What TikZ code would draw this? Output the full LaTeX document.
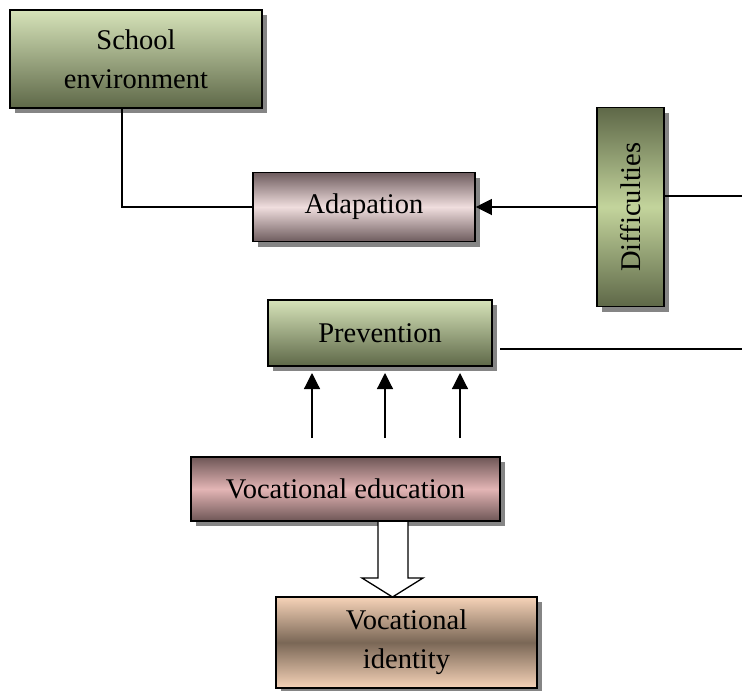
\documentclass[tikz,border=0pt]{standalone}
\usepackage{fontspec}
\setmainfont{Liberation Serif}
\usetikzlibrary{shadows,arrows.meta,calc}
\definecolor{grlight}{HTML}{D6E3B9}
\definecolor{grdark}{HTML}{5E6848}
\definecolor{grmid}{HTML}{C3D49C}
\definecolor{pkdark}{HTML}{6E5C5E}
\definecolor{pklight}{HTML}{F0DEDE}
\definecolor{rsdark}{HTML}{6E5656}
\definecolor{rsmid}{HTML}{E3B5B5}
\definecolor{pclight}{HTML}{F6D3B8}
\definecolor{pcdark}{HTML}{7A6756}
\tikzset{
  boxnode/.style={draw=black, line width=1.6pt, inner sep=0pt, align=center,
    font=\fontsize{28.5}{39}\selectfont,
    drop shadow={shadow xshift=5pt, shadow yshift=-5pt, fill=black!48, opacity=1}},
  greenbox/.style={boxnode, top color=grlight, bottom color=grdark},
  pinkbox/.style={boxnode, top color=pkdark, bottom color=pkdark, middle color=pklight},
  rosebox/.style={boxnode, top color=rsdark, bottom color=rsdark, middle color=rsmid},
  peachbox/.style={boxnode, top color=pclight, bottom color=pclight, middle color=pcdark},
  diffbox/.style={boxnode, top color=grdark, bottom color=grdark, middle color=grmid},
  conn/.style={line width=1.2pt},
  arr/.style={conn, -{Triangle[length=16pt,width=16pt]}},
}
\begin{document}
\begin{tikzpicture}[x=1pt,y=-1pt]
\useasboundingbox (0,0) rectangle (742,691);
\node[greenbox, minimum width=252pt, minimum height=98pt] (school) at (136,59) {School\\environment};
\node[pinkbox, minimum width=222pt, minimum height=69pt] (adapt) at (364,207) {Adapation};
\node[diffbox, minimum width=67pt, minimum height=199pt] (diff) at (630.5,207) {\rotatebox{90}{Difficulties}};
\node[greenbox, minimum width=224pt, minimum height=66pt] (prev) at (380,333) {Prevention};
\node[rosebox, minimum width=309pt, minimum height=64pt] (vedu) at (345.5,489) {Vocational education};
\node[peachbox, minimum width=261pt, minimum height=91pt] (vid) at (406.5,642.5) {Vocational\\identity};

% connectors
\draw[conn] ([xshift=-14pt]school.south) |- (adapt.west);
\draw[arr] (diff.west) -- (adapt.east);
\coordinate (dend) at (742,196);
\draw[conn] (diff.east |- dend) -- (dend);
\coordinate (pstart) at (500,349);
\coordinate (pend) at (742,349);
\draw[conn] (pstart) -- (pend);

\coordinate (a1) at (312,438);
\coordinate (a2) at (385,438);
\coordinate (a3) at (460,438);
\coordinate (t1) at (312,373);
\coordinate (t2) at (385,373);
\coordinate (t3) at (460,373);
\draw[arr] (a1) -- (t1);
\draw[arr] (a2) -- (t2);
\draw[arr] (a3) -- (t3);

% block arrow
\draw[line width=1.3pt, fill=white, line join=miter]
  (378,522) -- (378,578) -- (362,578) -- (392.5,597) -- (423,578) -- (408,578) -- (408,522);
\end{tikzpicture}
\end{document}
